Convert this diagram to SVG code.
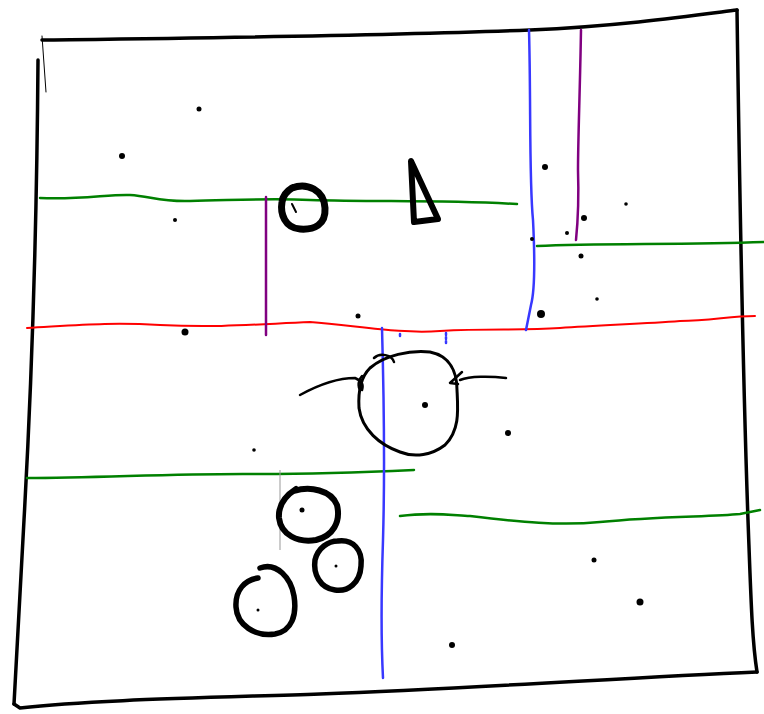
<svg xmlns="http://www.w3.org/2000/svg" width="764" height="714" viewBox="0 0 764 714">
<style>
.b{fill:none;stroke:#000;stroke-linecap:round;stroke-linejoin:round}
.g{fill:none;stroke:#008000;stroke-width:2.5;stroke-linecap:round}
.r{fill:none;stroke:#f00;stroke-width:2;stroke-linecap:round}
.bl{fill:none;stroke:#3838ff;stroke-width:2.5;stroke-linecap:round}
.p{fill:none;stroke:#800080;stroke-width:2.5;stroke-linecap:round}
.d{fill:#000}
</style>
<rect width="764" height="714" fill="#fff"/>
<g id="frame">
<path class="b" stroke-width="3.5" d="M42,40 C200,38 380,36 530,30 C620,26 690,16 737,10"/>
<path class="b" stroke-width="3.5" d="M737,10 C739,150 742,350 748,520 C751,600 752,640 757,672"/>
<path class="b" stroke-width="3.5" d="M757,672 C620,678 480,688 320,694 C200,698 90,700 20,708 L14,704"/>
<path class="b" stroke-width="3.5" d="M38,60 C37,200 33,360 24,520 C20,600 16,660 14,704"/>
<path class="b" stroke-width="1" d="M42,36 L46,92"/>
</g>
<g id="lines">
<path class="g" d="M40,198 C80,200 110,194 130,195 C150,196 160,202 190,201 C240,200 270,198 310,200 C380,202 440,200 517,204"/>
<path class="g" d="M537,246 C600,243 680,245 764,242"/>
<path class="g" d="M27,478 C100,478 180,473 260,474 C320,474 370,472 414,470"/>
<path class="g" d="M400,516 C430,512 450,515 470,516 C520,522 560,526 600,522 C660,516 710,517 740,514 L760,510"/>
<path class="r" d="M27,328 C80,325 110,322 160,325 C220,328 260,324 310,322 C360,326 400,334 440,331 C490,328 520,331 560,328 C600,325 640,324 680,321 C710,321 730,316 755,316"/>
<path class="bl" d="M529,30 C531,100 529,180 533,220 C535,260 535,290 531,305 L526,330"/>
<path class="bl" d="M382,328 C384,400 385,470 383,540 C381,600 381,640 383,678"/>
<path class="bl" stroke-width="1" stroke-dasharray="2 2" d="M446,333 L446,345 M400,334 L400,337"/>
<path class="p" d="M581,30 C580,90 578,140 578,170 C579,200 578,220 576,240"/>
<path class="p" d="M266,197 C266,250 266,300 266,335"/>
<path fill="none" stroke="#999" stroke-width="1" d="M280,470 L280,550"/>
</g>
<g id="shapes">
<path class="b" stroke-width="7" d="M292,188 C307,182 324,190 325,208 C326,225 314,230 300,229 C285,228 280,214 282,202 C283,195 287,191 292,188"/>
<path class="b" stroke-width="2" d="M292,204 L296,212"/>
<path class="b" stroke-width="6" d="M411,161 L414,222 L438,219 Z"/>
<path class="b" stroke-width="3" d="M370,368 C385,355 410,350 430,352 C450,356 457,372 457,390 C458,410 460,430 445,445 C432,455 415,458 400,452 C380,445 362,430 359,408 C358,392 360,378 370,368"/>
<path class="b" stroke-width="2.5" d="M300,395 C320,384 340,378 355,378 C360,380 364,384 362,390 C358,390 357,382 362,376"/>
<path class="b" stroke-width="2.5" d="M374,358 C380,352 392,355 394,362"/>
<path class="b" stroke-width="2.5" d="M506,378 C490,376 470,376 460,380 M462,372 L450,383 L458,384"/>
<path class="b" stroke-width="6" d="M294,491 C310,486 331,490 337,505 C341,522 333,536 316,540 C298,543 281,535 279,518 C278,505 285,496 296,489"/>
<path class="b" stroke-width="5.5" d="M338,541 C353,539 363,550 361,566 C360,583 348,592 335,590 C320,588 313,574 315,560 C318,548 328,541 338,541"/>
<path class="b" stroke-width="5.5" d="M260,568 C277,562 291,578 294,596 C297,615 292,631 275,634 C255,637 237,625 236,607 C235,590 245,580 258,578"/>
</g>
<g id="dots">
<circle class="d" cx="199" cy="109" r="2.5"/>
<circle class="d" cx="122" cy="156" r="3"/>
<circle class="d" cx="175" cy="220" r="2"/>
<circle class="d" cx="545" cy="167" r="3"/>
<circle class="d" cx="584" cy="218" r="3"/>
<circle class="d" cx="626" cy="204" r="1.8"/>
<circle class="d" cx="567" cy="233" r="2"/>
<circle class="d" cx="581" cy="256" r="2.5"/>
<circle class="d" cx="532" cy="239" r="2"/>
<circle class="d" cx="597" cy="299" r="1.8"/>
<circle class="d" cx="541" cy="314" r="4"/>
<circle class="d" cx="358" cy="316" r="2.5"/>
<circle class="d" cx="185" cy="332" r="3.5"/>
<circle class="d" cx="425" cy="405" r="3"/>
<circle class="d" cx="508" cy="433" r="3"/>
<circle class="d" cx="254" cy="450" r="1.8"/>
<circle class="d" cx="302" cy="510" r="2.5"/>
<circle class="d" cx="336" cy="566" r="1.5"/>
<circle class="d" cx="258" cy="610" r="1.5"/>
<circle class="d" cx="594" cy="560" r="2.5"/>
<circle class="d" cx="640" cy="602" r="3.5"/>
<circle class="d" cx="452" cy="645" r="3"/>
</g>
</svg>
